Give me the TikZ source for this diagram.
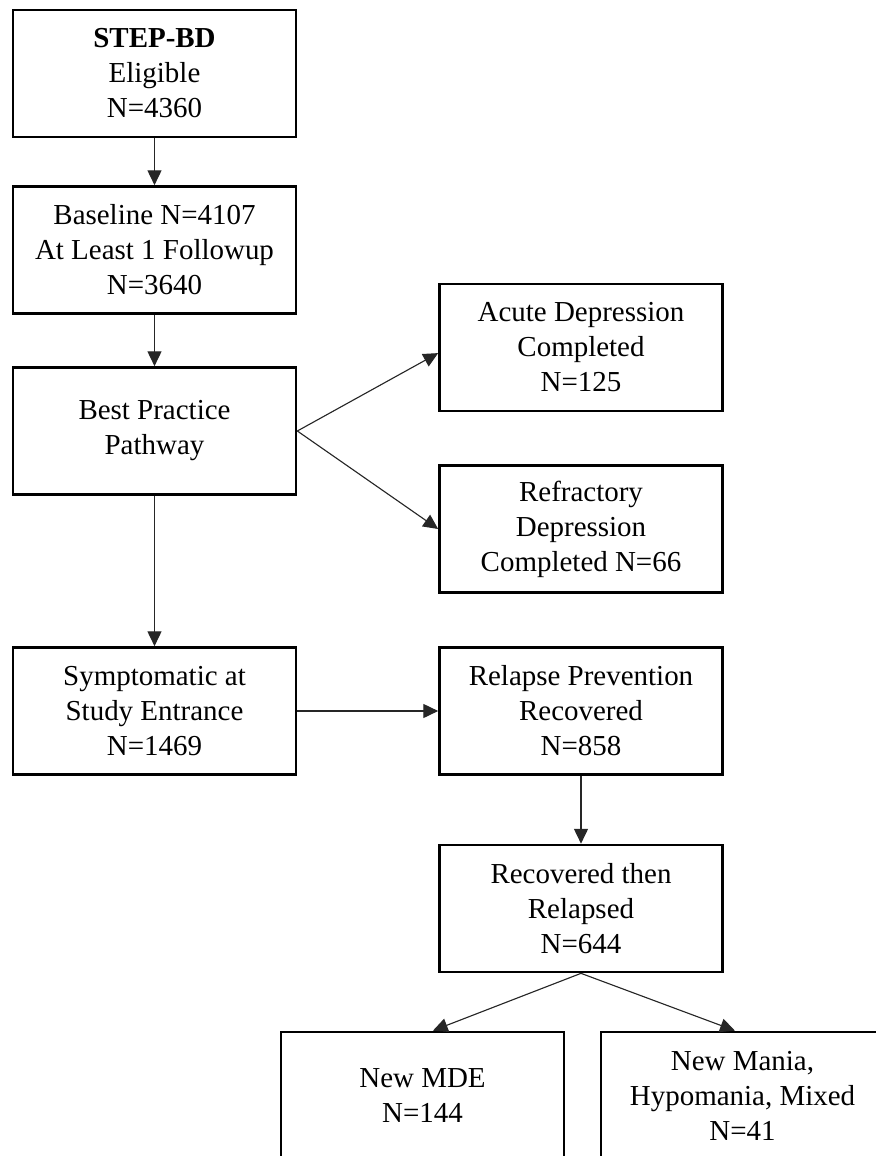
\documentclass[tikz,border=0pt]{standalone}
\usepackage{fontspec}
\setmainfont{Liberation Serif}
\usepackage{tikz}
\usetikzlibrary{
    positioning,
    arrows.meta
}

\begin{document}
\begin{tikzpicture}[
    fbox/.style={draw, line width=1.9pt, minimum width=7.075cm, minimum height=3.175cm,
                 align=center, inner sep=2pt,
                 font=\fontsize{20.6}{24.9}\selectfont},
    arr/.style={-{Triangle[length=0.37cm, width=0.35cm]}, line width=0.8pt, draw=black!85}]

    % page frame
    \useasboundingbox (0,0) rectangle (21.875,-28.9);

    % === LEFT column ===
    \node[fbox] (elig) at (3.8625,-1.8375)
      {\textbf{STEP-BD}\\Eligible\\N=4360};
    \node[fbox] (base) at (3.8625,-6.25)
      {Baseline N=4107\\At Least 1 Followup\\N=3640};
    \node[fbox] (best) at (3.8625,-10.775)
      {Best Practice\\Pathway};
    \node[fbox] (symp) at (3.8625,-17.775)
      {Symptomatic at\\Study Entrance\\N=1469};

    % === RIGHT column ===
    \node[fbox] (acute) at (14.525,-8.6875)
      {Acute Depression\\Completed\\N=125};
    \node[fbox] (refr) at (14.525,-13.225)
      {Refractory\\Depression\\Completed N=66};
    \node[fbox] (relprev) at (14.525,-17.775)
      {Relapse Prevention\\Recovered\\N=858};
    \node[fbox] (relapsed) at (14.525,-22.7125)
      {Recovered then\\Relapsed\\N=644};

    % === BOTTOM: new episodes ===
    \node[fbox] (mde) at (10.5625,-27.3875)
      {New MDE\\N=144};
    \node[fbox] (mania) at (18.5625,-27.3875)
      {New Mania,\\Hypomania, Mixed\\N=41};

    \draw[arr] (elig.south) to (base.north);
    \draw[arr] (base.south) to (best.north);
    \draw[arr] (best.south) to (symp.north);
    \draw[arr] (best.east) to ([yshift=-0.14cm]acute.west);
    \draw[arr] (best.east) to (refr.west);
    \draw[arr] (symp.east) to (relprev.west);
    \draw[arr] (relprev.south) to (relapsed.north);
    \draw[arr] (relapsed.south) to ([xshift=0.26cm]mde.north);
    \draw[arr] (relapsed.south) to ([xshift=-0.19cm]mania.north);

\end{tikzpicture}
\end{document}
